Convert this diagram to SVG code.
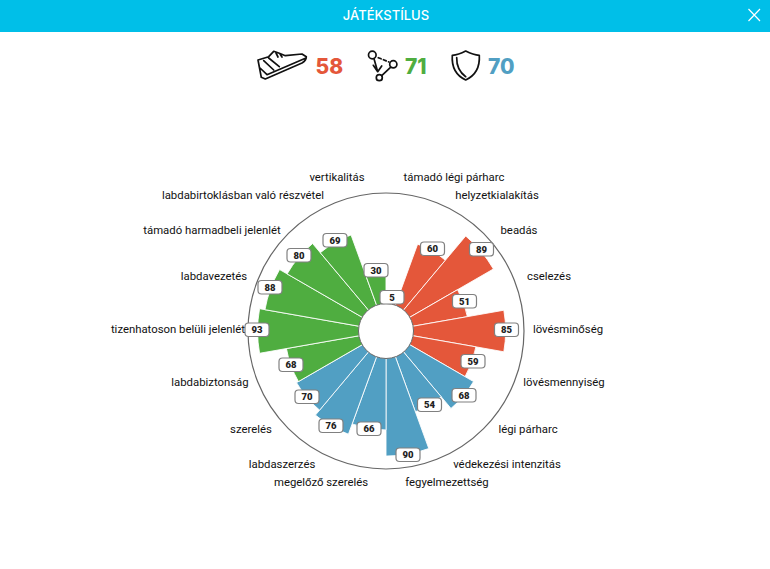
<svg xmlns="http://www.w3.org/2000/svg" width="770" height="569" viewBox="0 0 770 569">
<style>
.t{font-family:Roboto,"Liberation Sans",sans-serif;font-size:11.350px;fill:#111;text-anchor:middle}
.v{font-family:Roboto,"Liberation Sans",sans-serif;font-size:9.500px;font-weight:900;fill:#222;text-anchor:middle}
.b{fill:#fff;stroke:#808080;stroke-width:1.200}
.s{font-family:Inter,"Open Sans",sans-serif;font-size:21px;font-weight:800;text-anchor:start}
.r{fill:#e4573a}.g{fill:#4fad40}.u{fill:#519fc3}
.sec path{stroke:#fff;stroke-width:.8}
.i{fill:none;stroke:#111;stroke-width:1.700;stroke-linejoin:round;stroke-linecap:round}
</style>
<rect width="770" height="569" fill="#fff"/>
<g id="header">
<rect width="770" height="32" fill="#00bfe8"/>
<text x="386" y="19.500" text-anchor="middle" fill="#fff" font-family="Inter,'Open Sans',sans-serif" font-size="13" font-weight="500">JÁTÉKSTÍLUS</text>
<path d="M748.500 9L760 21M760 9L748.500 21" stroke="#fff" stroke-width="1.200" fill="none"/>
</g>
<g id="score-attack">
<path class="i" d="M258 60L268.700 56.700L273.700 51.300L279.300 53.300L285.300 55.700L302 54L306.300 56.700Q306.500 60 302 63L265.300 79L261.300 77.300ZM260 68L267 74.700L306 58M263.700 60.700L273.700 70M268.700 58L279.300 66.700M276 53L278 57M280 54L282 57"/>
<text class="s r" x="315.500" y="74">58</text>
</g>
<g id="score-possession">
<g class="i">
<circle cx="372.300" cy="55" r="3.800"/><circle cx="393.300" cy="64.300" r="3.600"/><circle cx="379.300" cy="77.700" r="3"/>
<path d="M374 58.700L377.700 71.700M373.300 65.300L377.700 71.700L381.700 66M390.500 67.300L382 75.300"/>
<path d="M378.300 57.700L389 62" stroke-dasharray="3 2.500"/>
</g>
<text class="s g" x="405" y="74">71</text>
</g>
<g id="score-defence">
<path class="i" d="M465.700 51C461 53.500 457 55 452.300 55.300C451.500 67 456 75.500 465.700 80C475.500 75.500 480 67 479.300 55.300C474.500 55 470.500 53.500 465.700 51ZM456.700 57.700C456.500 65.500 460 72.500 465.700 76.700"/>
<text class="s u" x="488" y="74">70</text>
</g>
<g id="chart">
<circle cx="386" cy="331" r="138" fill="#fff" stroke="#666" stroke-width="1.200"/>
<g class="sec" transform="translate(386 331)">
<path class="r" transform="rotate(0)" d="M0-27V-32.450A32.450 32.450 0 0 1 11.100-30.490L9.230-25.370A27 27 0 0 0 0-27Z"/>
<path class="r" transform="rotate(20)" d="M0-27V-92.400A92.400 92.400 0 0 1 31.600-86.830L9.230-25.370A27 27 0 0 0 0-27Z"/>
<path class="r" transform="rotate(40)" d="M0-27V-124A124 124 0 0 1 42.410-116.520L9.230-25.370A27 27 0 0 0 0-27Z"/>
<path class="r" transform="rotate(60)" d="M0-27V-82.600A82.600 82.600 0 0 1 28.250-77.620L9.230-25.370A27 27 0 0 0 0-27Z"/>
<path class="r" transform="rotate(80)" d="M0-27V-119.650A119.650 119.650 0 0 1 40.920-112.430L9.230-25.370A27 27 0 0 0 0-27Z"/>
<path class="r" transform="rotate(100)" d="M0-27V-91.300A91.300 91.300 0 0 1 31.220-85.790L9.230-25.370A27 27 0 0 0 0-27Z"/>
<path class="u" transform="rotate(120)" d="M0-27V-101.100A101.100 101.100 0 0 1 34.580-95L9.230-25.370A27 27 0 0 0 0-27Z"/>
<path class="u" transform="rotate(140)" d="M0-27V-85.900A85.900 85.900 0 0 1 29.380-80.720L9.230-25.370A27 27 0 0 0 0-27Z"/>
<path class="u" transform="rotate(160)" d="M0-27V-125.100A125.100 125.100 0 0 1 42.780-117.560L9.230-25.370A27 27 0 0 0 0-27Z"/>
<path class="u" transform="rotate(180)" d="M0-27V-98.900A98.900 98.900 0 0 1 33.820-92.930L9.230-25.370A27 27 0 0 0 0-27Z"/>
<path class="u" transform="rotate(200)" d="M0-27V-109.800A109.800 109.800 0 0 1 37.550-103.180L9.230-25.370A27 27 0 0 0 0-27Z"/>
<path class="u" transform="rotate(220)" d="M0-27V-103.300A103.300 103.300 0 0 1 35.330-97.070L9.230-25.370A27 27 0 0 0 0-27Z"/>
<path class="g" transform="rotate(240)" d="M0-27V-101.100A101.100 101.100 0 0 1 34.580-95L9.230-25.370A27 27 0 0 0 0-27Z"/>
<path class="g" transform="rotate(260)" d="M0-27V-128.400A128.400 128.400 0 0 1 43.910-120.660L9.230-25.370A27 27 0 0 0 0-27Z"/>
<path class="g" transform="rotate(280)" d="M0-27V-122.900A122.900 122.900 0 0 1 42.030-115.490L9.230-25.370A27 27 0 0 0 0-27Z"/>
<path class="g" transform="rotate(300)" d="M0-27V-114.200A114.200 114.200 0 0 1 39.060-107.310L9.230-25.370A27 27 0 0 0 0-27Z"/>
<path class="g" transform="rotate(320)" d="M0-27V-102.200A102.200 102.200 0 0 1 34.950-96.040L9.230-25.370A27 27 0 0 0 0-27Z"/>
<path class="g" transform="rotate(340)" d="M0-27V-59.700A59.700 59.700 0 0 1 20.420-56.100L9.230-25.370A27 27 0 0 0 0-27Z"/>
</g>
<circle cx="386" cy="331" r="27.500" fill="#fff" stroke="#666" stroke-width="1"/>
</g>
<g id="values">
<g><rect class="b" x="380" y="290.500" width="24" height="13.500" rx="3.500"/><text class="v" x="392" y="300.800">5</text></g>
<g><rect class="b" x="420.500" y="242" width="24" height="13.500" rx="3.500"/><text class="v" x="432.500" y="252.300">60</text></g>
<g><rect class="b" x="469.500" y="242.500" width="24" height="13.500" rx="3.500"/><text class="v" x="481.500" y="252.800">89</text></g>
<g><rect class="b" x="452.500" y="294.500" width="24" height="13.500" rx="3.500"/><text class="v" x="464.500" y="304.800">51</text></g>
<g><rect class="b" x="494.500" y="323" width="24" height="13.500" rx="3.500"/><text class="v" x="506.500" y="333.300">85</text></g>
<g><rect class="b" x="461" y="354.500" width="24" height="13.500" rx="3.500"/><text class="v" x="473" y="364.800">59</text></g>
<g><rect class="b" x="452" y="388.500" width="24" height="13.500" rx="3.500"/><text class="v" x="464" y="398.800">68</text></g>
<g><rect class="b" x="417.500" y="398" width="24" height="13.500" rx="3.500"/><text class="v" x="429.500" y="408.300">54</text></g>
<g><rect class="b" x="396" y="448" width="24" height="13.500" rx="3.500"/><text class="v" x="408" y="458.300">90</text></g>
<g><rect class="b" x="357" y="422" width="24" height="13.500" rx="3.500"/><text class="v" x="369" y="432.300">66</text></g>
<g><rect class="b" x="319" y="419" width="24" height="13.500" rx="3.500"/><text class="v" x="331" y="429.300">76</text></g>
<g><rect class="b" x="295" y="390" width="24" height="13.500" rx="3.500"/><text class="v" x="307" y="400.300">70</text></g>
<g><rect class="b" x="279" y="358" width="24" height="13.500" rx="3.500"/><text class="v" x="291" y="368.300">68</text></g>
<g><rect class="b" x="245" y="323" width="24" height="13.500" rx="3.500"/><text class="v" x="257" y="333.300">93</text></g>
<g><rect class="b" x="258" y="280.500" width="24" height="13.500" rx="3.500"/><text class="v" x="270" y="290.800">88</text></g>
<g><rect class="b" x="287" y="248.500" width="24" height="13.500" rx="3.500"/><text class="v" x="299" y="258.800">80</text></g>
<g><rect class="b" x="323" y="233.500" width="24" height="13.500" rx="3.500"/><text class="v" x="335" y="243.800">69</text></g>
<g><rect class="b" x="364" y="263.500" width="24" height="13.500" rx="3.500"/><text class="v" x="376" y="273.800">30</text></g>
</g>
<g id="labels">
<text class="t" x="337" y="181">vertikalitás</text>
<text class="t" x="454" y="181">támadó légi párharc</text>
<text class="t" x="497" y="199">helyzetkialakítás</text>
<text class="t" x="519" y="234">beadás</text>
<text class="t" x="549" y="280">cselezés</text>
<text class="t" x="568" y="333">lövésminőség</text>
<text class="t" x="564" y="386">lövésmennyiség</text>
<text class="t" x="528" y="433">légi párharc</text>
<text class="t" x="507" y="468">védekezési intenzitás</text>
<text class="t" x="447" y="486">fegyelmezettség</text>
<text class="t" x="321" y="486">megelőző szerelés</text>
<text class="t" x="282" y="468">labdaszerzés</text>
<text class="t" x="251" y="433">szerelés</text>
<text class="t" x="210" y="386">labdabiztonság</text>
<text class="t" x="178" y="333">tizenhatoson belüli jelenlét</text>
<text class="t" x="214" y="280">labdavezetés</text>
<text class="t" x="212" y="234">támadó harmadbeli jelenlét</text>
<text class="t" x="243" y="199">labdabirtoklásban való részvétel</text>
</g>
</svg>
